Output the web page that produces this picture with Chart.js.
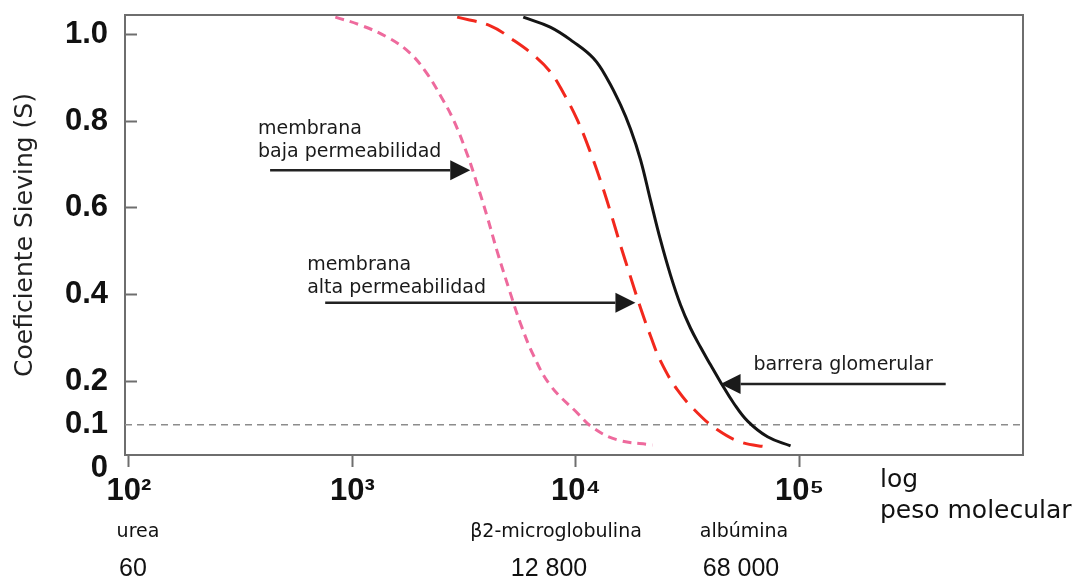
<!DOCTYPE html>
<html>
<head>
<meta charset="utf-8">
<script src="https://cdn.jsdelivr.net/npm/chart.js@4.4.0/dist/chart.umd.min.js"></script>
<style>
    html, body { margin: 0; padding: 0; background: #fff; }
    #wrap { width: 1078px; height: 583px; position: relative; }
</style>
</head>
<body>
<div id="wrap"><canvas id="sievingChart"></canvas></div>
<script>
// Molecular weight (Da) and sieving coefficient
const lowFluxMW = [838, 1081, 1430, 1810, 2160, 2470, 2830, 3270, 3620, 4010, 4450, 5080, 5640, 6440, 7670, 10140, 11970, 15310, 21980];
const lowFluxS = [1.040, 1.022, 0.994, 0.957, 0.909, 0.860, 0.803, 0.722, 0.653, 0.579, 0.498, 0.404, 0.334, 0.261, 0.191, 0.127, 0.092, 0.065, 0.053];

const highFluxMW = [2940, 4140, 5250, 6440, 7670, 8790, 10140, 11590, 12850, 14260, 15810, 17540, 19450, 21540, 23880, 28440, 34990, 42950, 54450, 71940];
const highFluxS = [1.040, 1.020, 0.987, 0.953, 0.914, 0.865, 0.803, 0.729, 0.664, 0.591, 0.514, 0.441, 0.369, 0.305, 0.247, 0.180, 0.127, 0.088, 0.060, 0.048];

const glomerularMW = [5810, 7670, 9730, 11970, 13830, 15810, 17540, 19450, 21540, 23880, 26480, 29370, 32510, 36050, 39990, 44360, 50700, 58610, 71940, 91200];
const glomerularS = [1.040, 1.017, 0.983, 0.945, 0.897, 0.838, 0.782, 0.711, 0.618, 0.526, 0.445, 0.376, 0.323, 0.279, 0.238, 0.198, 0.150, 0.108, 0.072, 0.051];

const cutoffS = 0.1;

const xTickValues = [100, 1000, 10000, 100000];
const xTickLabels = ['10²', '10³', '10⁴', '10⁵'];
const yTickValues = [0, 0.1, 0.2, 0.4, 0.6, 0.8, 1.0];
const yTickLabels = ['0', '0.1', '0.2', '0.4', '0.6', '0.8', '1.0'];

const molecules = ['urea', 'β2-microglobulina', 'albúmina'];
const moleculeWeights = ['60', '12 800', '68 000'];

// axis range
const xMin = 96, xMax = 1.0e6;
const yMin = 0.03, yMax = 1.045;

// arrows point at the curves; text anchored at its first line (data coords)
const callouts = [
    { lines: ['membrana', 'baja permeabilidad'], text: [378, 0.770], tail: [428, 0.687], tip: [3365, 0.687] },
    { lines: ['membrana', 'alta permeabilidad'], text: [627, 0.457], tail: [755, 0.381], tip: [18450, 0.381] },
    { lines: ['barrera glomerular'], text: [62200, 0.226], tail: [451000, 0.194], tip: [44360, 0.194] }
];
// label columns under the x axis (px)
const moleculeX = [138, 556, 744];
const weightX = [133, 549, 741];

function pts(xs, ys) {
    return xs.map((x, i) => ({ x: x, y: ys[i] }));
}

function drawArrow(ctx, x1, y1, x2, y2) {
    const ang = Math.atan2(y2 - y1, x2 - x1);
    const head = 20, half = 10;
    const bx = x2 - head * Math.cos(ang);
    const by = y2 - head * Math.sin(ang);
    ctx.beginPath();
    ctx.moveTo(x1, y1);
    ctx.lineTo(bx, by);
    ctx.stroke();
    ctx.beginPath();
    ctx.moveTo(x2, y2);
    ctx.lineTo(bx + half * Math.sin(ang), by - half * Math.cos(ang));
    ctx.lineTo(bx - half * Math.sin(ang), by + half * Math.cos(ang));
    ctx.closePath();
    ctx.fill();
}

const overlay = {
    id: 'overlay',
    beforeDatasetsDraw(chart) {
        const { ctx, chartArea: a } = chart;
        ctx.save();
        ctx.strokeStyle = '#6e6e6e';
        ctx.lineWidth = 2;
        ctx.strokeRect(a.left, a.top, a.right - a.left, a.bottom - a.top);
        ctx.restore();
    },
    afterDraw(chart) {
        const { ctx } = chart;
        const xs = chart.scales.x, ys = chart.scales.y;
        ctx.save();

        // callouts
        ctx.strokeStyle = '#222';
        ctx.fillStyle = '#1a1a1a';
        ctx.lineWidth = 2.5;
        ctx.font = '19px "DejaVu Sans"';
        ctx.textAlign = 'left';
        ctx.textBaseline = 'alphabetic';
        callouts.forEach(c => {
            drawArrow(ctx,
                xs.getPixelForValue(c.tail[0]), ys.getPixelForValue(c.tail[1]),
                xs.getPixelForValue(c.tip[0]), ys.getPixelForValue(c.tip[1]));
            const tx = xs.getPixelForValue(c.text[0]);
            const ty = ys.getPixelForValue(c.text[1]);
            c.lines.forEach((line, i) => ctx.fillText(line, tx, ty + i * 23));
        });

        // molecule names and weights
        ctx.fillStyle = '#111';
        ctx.textAlign = 'center';
        ctx.font = '19px "DejaVu Sans"';
        molecules.forEach((m, i) => ctx.fillText(m, moleculeX[i], 537));
        ctx.font = '25px "Liberation Sans"';
        moleculeWeights.forEach((w, i) => ctx.fillText(w, weightX[i], 576));

        // x axis caption
        ctx.textAlign = 'left';
        ctx.font = '25px "DejaVu Sans"';
        ctx.fillText('log', 880, 487);
        ctx.fillText('peso molecular', 880, 518);
        ctx.restore();
    }
};

document.addEventListener('DOMContentLoaded', function() {
    const ctx = document.getElementById('sievingChart').getContext('2d');
    new Chart(ctx, {
        type: 'scatter',
        data: {
            datasets: [
                {
                    label: 'barrera glomerular',
                    data: pts(glomerularMW, glomerularS),
                    showLine: true,
                    borderColor: '#141414',
                    borderWidth: 3,
                    pointRadius: 0,
                    tension: 0.4
                },
                {
                    label: 'membrana alta permeabilidad',
                    data: pts(highFluxMW, highFluxS),
                    showLine: true,
                    borderColor: '#f2281d',
                    borderWidth: 3,
                    borderDash: [20, 10],
                    pointRadius: 0,
                    tension: 0.4
                },
                {
                    label: 'membrana baja permeabilidad',
                    data: pts(lowFluxMW, lowFluxS),
                    showLine: true,
                    borderColor: '#ee6a9d',
                    borderWidth: 3,
                    borderDash: [9, 6],
                    pointRadius: 0,
                    tension: 0.4
                },
                {
                    label: 'S = 0.1',
                    data: [{ x: xMin, y: cutoffS }, { x: xMax, y: cutoffS }],
                    showLine: true,
                    borderColor: '#8c8c8c',
                    borderWidth: 1.5,
                    borderDash: [7, 5],
                    pointRadius: 0
                }
            ]
        },
        options: {
            responsive: true,
            maintainAspectRatio: false,
            animation: false,
            layout: { padding: { top: 15, right: 55, left: 0, bottom: 0 } },
            plugins: {
                legend: { display: false },
                tooltip: { enabled: false }
            },
            scales: {
                x: {
                    type: 'logarithmic',
                    min: xMin,
                    max: xMax,
                    afterBuildTicks: s => { s.ticks = xTickValues.map(v => ({ value: v })); },
                    afterFit: s => { s.height = 128; s.paddingLeft = 0; s.paddingRight = 0; },
                    border: { display: false },
                    grid: { drawOnChartArea: false, tickLength: 12, tickWidth: 2, tickColor: '#6e6e6e' },
                    ticks: {
                        autoSkip: false,
                        maxRotation: 0,
                        padding: 6,
                        color: '#111',
                        font: { family: 'Liberation Sans', size: 31, weight: 'bold' },
                        callback: (v, i) => xTickLabels[i]
                    }
                },
                y: {
                    type: 'linear',
                    min: yMin,
                    max: yMax,
                    afterBuildTicks: s => { s.ticks = yTickValues.map(v => ({ value: v })); },
                    afterFit: s => { s.width = 125; s.paddingTop = 0; s.paddingBottom = 0; },
                    border: { display: false },
                    grid: {
                        drawOnChartArea: false,
                        tickLength: -12,
                        tickWidth: 2,
                        tickColor: c => (c.tick && c.tick.value > 0.15) ? '#6e6e6e' : 'rgba(0,0,0,0)'
                    },
                    ticks: {
                        autoSkip: false,
                        padding: 29,
                        color: '#111',
                        font: { family: 'Liberation Sans', size: 31, weight: 'bold' },
                        callback: (v, i) => yTickLabels[i]
                    },
                    title: {
                        display: true,
                        text: 'Coeficiente Sieving (S)',
                        color: '#222',
                        font: { family: 'DejaVu Sans', size: 25 },
                        padding: { top: 10, bottom: 0 }
                    }
                }
            }
        },
        plugins: [overlay]
    });
});
</script>
</body>
</html>
